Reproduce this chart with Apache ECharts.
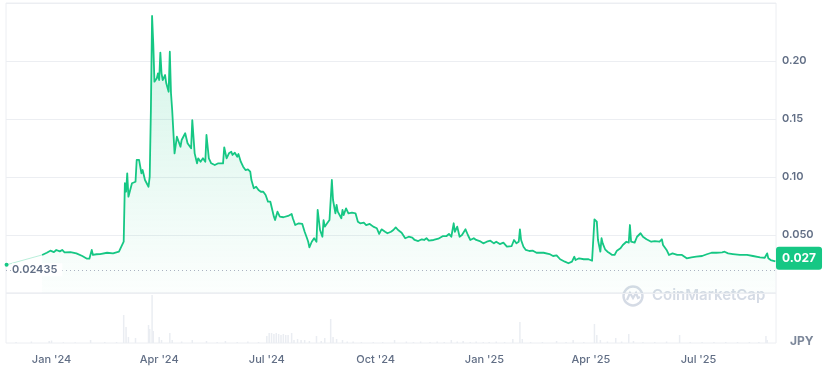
<!DOCTYPE html>
<html>
<head>
<meta charset="utf-8">
<script src="https://cdn.jsdelivr.net/npm/echarts@6/dist/echarts.min.js"></script>
<style>
html, body { margin: 0; padding: 0; background: #fff; }
#chart { width: 829px; height: 376px; }
</style>
</head>
<body>
<div id="chart"></div>
<script>
// x values are days counted from 1 Jan 2024
const startDays = [-38, -8]
const startPrices = [0.02435, 0.0328]

const days = [-8, -4, -1, 2, 4, 7, 9, 11, 16, 21, 26, 30, 32, 34, 35, 38, 41, 47, 52, 57,
  59, 61, 62, 63, 64, 65, 68, 71, 72, 74, 76, 77, 79, 82, 83, 84, 85, 86, 87, 89,
  90, 91, 92, 93, 94, 96, 97, 99, 100, 101, 102, 104, 105, 106, 107, 109, 110, 111, 113, 115,
  116, 118, 119, 121, 123, 124, 126, 128, 130, 131, 133, 135, 138, 141, 142, 145, 146, 148, 150, 152,
  153, 155, 157, 158, 160, 162, 164, 166, 168, 169, 171, 173, 175, 177, 179, 181, 183, 185, 188, 189,
  191, 193, 196, 200, 203, 204, 206, 209, 212, 214, 216, 217, 218, 220, 222, 224, 225, 227, 229, 230,
  231, 233, 235, 237, 238, 240, 241, 242, 245, 246, 247, 249, 251, 254, 257, 259, 261, 264, 266, 269,
  272, 275, 277, 279, 282, 284, 287, 289, 291, 293, 296, 299, 302, 305, 307, 310, 313, 315, 317, 319,
  323, 327, 331, 334, 336, 338, 340, 341, 343, 345, 347, 350, 352, 354, 357, 359, 362, 365, 368, 371,
  374, 376, 379, 382, 385, 389, 391, 393, 395, 396, 397, 399, 401, 404, 407, 410, 416, 421, 424, 427,
  430, 434, 437, 440, 442, 443, 446, 450, 454, 457, 458, 459, 461, 462, 464, 465, 466, 468, 470, 472,
  474, 476, 478, 481, 483, 486, 488, 489, 490, 493, 495, 498, 500, 503, 507, 510, 514, 516, 517, 520,
  522, 525, 529, 533, 537, 541, 545, 550, 554, 558, 562, 567, 569, 572, 576, 582, 588, 593, 599, 603,
  605, 606, 608, 612]

const prices = [0.0328, 0.0347, 0.0365, 0.0353, 0.0371, 0.0359, 0.0371, 0.0351, 0.0353, 0.0342, 0.0319, 0.0296, 0.0296, 0.0371, 0.0328, 0.0334, 0.0336, 0.0347, 0.0342, 0.0356,
  0.0399, 0.0442, 0.0946, 0.0873, 0.1032, 0.0830, 0.0946, 0.0959, 0.1147, 0.1147, 0.1032, 0.1060, 0.0974, 0.0916, 0.1003, 0.1578, 0.2388, 0.2153, 0.1822, 0.1851,
  0.1894, 0.1836, 0.2072, 0.1894, 0.1836, 0.1879, 0.1808, 0.1735, 0.2080, 0.1722, 0.1578, 0.1204, 0.1204, 0.1347, 0.1334, 0.1261, 0.1319, 0.1304, 0.1377, 0.1291,
  0.1276, 0.1247, 0.1491, 0.1204, 0.1118, 0.1161, 0.1132, 0.1161, 0.1132, 0.1362, 0.1161, 0.1118, 0.1103, 0.1118, 0.1132, 0.1118, 0.1256, 0.1161, 0.1204, 0.1218,
  0.1190, 0.1209, 0.1175, 0.1198, 0.1132, 0.1089, 0.1060, 0.1066, 0.1046, 0.0974, 0.0903, 0.0916, 0.0888, 0.0873, 0.0873, 0.0845, 0.0787, 0.0787, 0.0658, 0.0629,
  0.0701, 0.0658, 0.0653, 0.0664, 0.0681, 0.0644, 0.0586, 0.0601, 0.0595, 0.0528, 0.0472, 0.0442, 0.0394, 0.0442, 0.0472, 0.0442, 0.0716, 0.0543, 0.0485, 0.0629,
  0.0572, 0.0601, 0.0629, 0.0974, 0.0802, 0.0687, 0.0759, 0.0701, 0.0644, 0.0716, 0.0672, 0.0730, 0.0687, 0.0692, 0.0687, 0.0615, 0.0601, 0.0606, 0.0586, 0.0595,
  0.0572, 0.0558, 0.0509, 0.0549, 0.0528, 0.0515, 0.0528, 0.0543, 0.0566, 0.0543, 0.0520, 0.0472, 0.0485, 0.0477, 0.0457, 0.0448, 0.0463, 0.0457, 0.0472, 0.0451,
  0.0457, 0.0468, 0.0491, 0.0491, 0.0509, 0.0485, 0.0601, 0.0528, 0.0572, 0.0485, 0.0500, 0.0549, 0.0500, 0.0457, 0.0472, 0.0457, 0.0448, 0.0428, 0.0442, 0.0451,
  0.0428, 0.0442, 0.0422, 0.0434, 0.0399, 0.0405, 0.0457, 0.0428, 0.0442, 0.0549, 0.0457, 0.0399, 0.0371, 0.0362, 0.0365, 0.0347, 0.0347, 0.0336, 0.0319, 0.0325,
  0.0291, 0.0270, 0.0256, 0.0270, 0.0313, 0.0284, 0.0299, 0.0291, 0.0291, 0.0278, 0.0270, 0.0635, 0.0615, 0.0457, 0.0356, 0.0472, 0.0428, 0.0377, 0.0356, 0.0342,
  0.0328, 0.0328, 0.0365, 0.0385, 0.0414, 0.0442, 0.0434, 0.0586, 0.0442, 0.0434, 0.0485, 0.0515, 0.0485, 0.0463, 0.0442, 0.0448, 0.0442, 0.0463, 0.0414, 0.0371,
  0.0328, 0.0342, 0.0328, 0.0328, 0.0299, 0.0308, 0.0313, 0.0319, 0.0334, 0.0347, 0.0347, 0.0351, 0.0356, 0.0342, 0.0336, 0.0328, 0.0328, 0.0319, 0.0308, 0.0304,
  0.0342, 0.0299, 0.0284, 0.0272]

const volDays = [-30, -17, -2, 0, 10, 20, 33, 45, 55, 61, 63, 65, 71, 82, 83, 85, 86, 91, 93, 100,
  102, 110, 119, 131, 140, 147, 157, 166, 175, 182, 184, 186, 188, 190, 192, 194, 196, 198, 200, 203,
  205, 208, 211, 214, 218, 224, 228, 231, 236, 238, 241, 246, 250, 255, 262, 272, 280, 290, 300, 306,
  312, 320, 326, 332, 338, 343, 348, 354, 359, 365, 370, 376, 383, 390, 396, 398, 405, 415, 427, 435,
  441, 450, 459, 461, 464, 470, 477, 482, 488, 492, 500, 510, 520, 531, 540, 550, 560, 570, 580, 590,
  598, 604, 605]
const volumes = [1, 1.5, 2, 2.5, 0.8, 0.8, 3, 1, 1, 28, 16, 6, 5, 18, 14, 48, 12, 6, 3, 10,
  3, 1.5, 3, 2, 1, 2, 1, 1.5, 1, 7, 10, 10, 9, 10, 9, 8, 9, 8, 8, 10,
  3, 4, 3, 3, 2, 7, 2, 5, 24, 6, 4, 3, 1.5, 1.5, 1, 1, 1, 3, 1.5, 1,
  1.5, 1, 1.5, 1, 3, 1.5, 2, 1, 1.5, 1, 1, 1.5, 1, 4, 21, 4, 1, 1, 2, 1,
  3, 1, 19, 8, 3, 1.5, 5, 1.5, 9, 2, 1, 1, 1.5, 8, 1, 1, 1, 1, 1, 1,
  1, 7, 3]

const tickDays = [0, 91, 182, 274, 366, 456, 547]
const tickLabels = ["Jan '24", "Apr '24", "Jul '24", "Oct '24", "Jan '25", "Apr '25", "Jul '25"]

const green = '#16c784'
const textGray = '#616e85'
const lineGray = '#eceef2'

const lastPrice = prices[prices.length - 1]

const chart = echarts.init(document.getElementById('chart'))
chart.setOption({
  animation: false,
  textStyle: { fontFamily: 'Inter' },
  grid: [
    { left: 6, right: 53, top: 3, height: 290, show: true, borderColor: lineGray, borderWidth: 1 },
    { left: 6, right: 53, top: 293, height: 50, show: true, borderColor: lineGray, borderWidth: 1 }
  ],
  xAxis: [
    {
      type: 'value', gridIndex: 0, min: -38.5, max: 612.5,
      axisLine: { show: false }, axisTick: { show: false }, axisLabel: { show: false }, splitLine: { show: false }
    },
    {
      type: 'value', gridIndex: 1, min: -38.5, max: 612.5,
      axisLine: { show: false }, axisTick: { show: false }, splitLine: { show: false },
      axisLabel: {
        customValues: tickDays,
        margin: 11,
        color: textGray,
        fontSize: 11,
        fontWeight: 500,
        formatter: v => tickLabels[tickDays.indexOf(v)]
      }
    }
  ],
  yAxis: [
    {
      type: 'value', gridIndex: 0, position: 'right', min: 0, max: 0.25, interval: 0.05,
      axisLine: { show: false }, axisTick: { show: false },
      splitLine: { lineStyle: { color: lineGray } },
      axisLabel: {
        margin: 6,
        color: textGray,
        fontSize: 11,
        fontWeight: 600,
        formatter: v => (v <= 0 || v >= 0.25) ? '' : (v < 0.1 ? v.toFixed(3) : v.toFixed(2))
      }
    },
    {
      type: 'value', gridIndex: 1, min: 0, max: 50, show: false
    }
  ],
  series: [
    {
      type: 'line',
      xAxisIndex: 0, yAxisIndex: 0,
      data: startDays.map((d, i) => i === 0
        ? { value: [d, startPrices[i]], symbol: 'circle', symbolSize: 4, itemStyle: { color: green } }
        : [d, startPrices[i]]),
      symbol: 'none',
      showSymbol: true,
      lineStyle: { color: 'rgba(22,199,132,0.3)', width: 1 },
      markLine: {
        silent: true,
        symbol: ['none', 'none'],
        lineStyle: { color: '#a9b1c0', type: [1, 3], width: 1 },
        label: {
          position: 'insideStart',
          distance: 6,
          color: textGray,
          fontSize: 11,
          fontWeight: 600,
          backgroundColor: '#fff',
          padding: [1, 5, 1, 0],
          formatter: () => String(startPrices[0])
        },
        data: [{ yAxis: startPrices[0] }]
      }
    },
    {
      type: 'line',
      xAxisIndex: 0, yAxisIndex: 0,
      data: days.map((d, i) => [d, prices[i]]),
      showSymbol: false,
      lineStyle: { color: green, width: 1.8, join: 'round' },
      areaStyle: {
        color: new echarts.graphic.LinearGradient(0, 0, 0, 1, [
          { offset: 0, color: 'rgba(22,199,132,0.28)' },
          { offset: 1, color: 'rgba(22,199,132,0.02)' }
        ])
      },
      markLine: {
        silent: true,
        symbol: ['none', 'none'],
        lineStyle: { color: 'rgba(0,0,0,0)', width: 0 },
        label: {
          show: true,
          position: 'end',
          distance: 0,
          color: '#fff',
          fontSize: 12,
          fontWeight: 'bold',
          backgroundColor: green,
          borderRadius: 3,
          padding: [6, 6, 5, 6],
          formatter: () => lastPrice.toFixed(3)
        },
        data: [{ yAxis: lastPrice }]
      }
    },
    {
      type: 'bar',
      xAxisIndex: 1, yAxisIndex: 1,
      data: volDays.map((d, i) => [d, volumes[i]]),
      barWidth: 1.5,
      itemStyle: { color: '#eaedf2' }
    }
  ],
  graphic: [
    {
      type: 'group', left: 621, top: 284, silent: true,
      children: [
        { type: 'circle', shape: { cx: 11, cy: 11, r: 9.5 }, style: { fill: 'none', stroke: '#d5dbe5', lineWidth: 2.4 } },
        { type: 'polyline', shape: { points: [[5, 15], [8, 8], [11, 13], [14, 8], [16, 13], [18, 12]] }, style: { fill: 'none', stroke: '#d5dbe5', lineWidth: 2.2 } }
      ]
    },
    { type: 'text', left: 652, top: 288, silent: true, style: { text: 'CoinMarketCap', fill: '#d5dbe5', font: '600 15px Inter' } },
    { type: 'text', left: 790, top: 335, silent: true, style: { text: 'JPY', fill: '#7c879a', font: 'bold 12px Inter' } }
  ]
})
</script>
</body>
</html>
